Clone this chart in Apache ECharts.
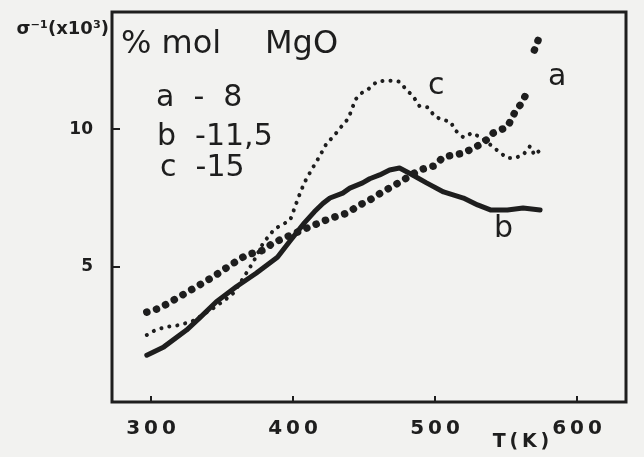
<!DOCTYPE html>
<html>
<head>
<meta charset="utf-8">
<script src="https://cdn.jsdelivr.net/npm/echarts@6/dist/echarts.min.js"></script>
<style>
  html, body { margin: 0; padding: 0; background: #f2f2f0; }
  #echarts { width: 644px; height: 457px; }
</style>
</head>
<body>
<div id="echarts"></div>
<script>
// T (K) and sigma^-1 (x10^3)
const aT = [297, 306, 316, 330, 344, 356, 367, 379, 386, 398, 412, 426, 438, 447, 454, 463, 476, 489, 499, 506, 520, 534, 541, 551, 556, 561, 566, null, 570, 574];
const aV = [3.36, 3.5, 3.8, 4.22, 4.65, 5.07, 5.43, 5.61, 5.87, 6.15, 6.46, 6.76, 6.95, 7.25, 7.43, 7.72, 8.1, 8.52, 8.66, 8.99, 9.13, 9.5, 9.86, 10.08, 10.59, 10.95, 11.46, null, 12.87, 13.42];

const bT = [297, 309, 325, 335, 346, 360, 374, 389, 398, 408, 415, 421, 426, 435, 440, 449, 454, 461, 468, 475, 482, 494, 506, 520, 530, 539, 551, 562, 574];
const bV = [1.8, 2.1, 2.71, 3.19, 3.74, 4.28, 4.77, 5.35, 5.95, 6.6, 7.0, 7.3, 7.5, 7.68, 7.86, 8.05, 8.2, 8.34, 8.52, 8.59, 8.4, 8.05, 7.72, 7.5, 7.25, 7.07, 7.07, 7.14, 7.07];

const cT = [297, 303, 311, 320, 330, 344, 352, 358, 365, 372, 379, 387, 393, 398, 404, 408, 413, 419, 424, 428, 433, 439, 444, 448, 453, 459, 465, 470, 475, 481, 484, 489, 495, 500, 506, 511, 514, 520, 526, 533, 540, 546, 551, 556, 562, 567, 570, 574];
const cV = [2.53, 2.71, 2.83, 2.89, 3.05, 3.51, 3.8, 4.05, 4.6, 5.18, 5.87, 6.38, 6.55, 6.7, 7.55, 8.06, 8.52, 9.04, 9.52, 9.7, 10.03, 10.39, 11.08, 11.3, 11.45, 11.72, 11.76, 11.76, 11.72, 11.36, 11.24, 10.84, 10.79, 10.45, 10.33, 10.27, 9.97, 9.7, 9.86, 9.68, 9.39, 9.14, 8.95, 8.95, 9.06, 9.39, 9.06, 9.24];

const xTicks = [300, 400, 500, 600];
const yTicks = [5, 10];

const ink = '#1e1e1e';
const pairs = (xs, ys) => xs.map((x, i) => (x === null ? [null, null] : [x, ys[i]]));

let myChart = echarts.init(document.getElementById('echarts'));

const txt = (text, x, y, size, weight, align) => ({
  type: 'text',
  x: x,
  y: y,
  style: {
    text: text,
    font: (weight || 'normal') + ' ' + size + 'px "DejaVu Sans"',
    fill: ink,
    align: align || 'left',
    verticalAlign: 'middle',
    textAlign: align || 'left',
    textVerticalAlign: 'middle',
  },
});

let option = {
  backgroundColor: '#f2f2f0',
  animation: false,
  grid: {
    left: 112,
    right: 18,
    top: 12,
    bottom: 55,
    show: true,
    borderColor: ink,
    borderWidth: 3,
  },
  xAxis: {
    type: 'value',
    min: 272.5,
    max: 634.5,
    axisLine: { show: false },
    splitLine: { show: false },
    axisTick: {
      inside: true,
      length: 6,
      lineStyle: { color: ink, width: 2 },
      customValues: xTicks,
    },
    axisLabel: {
      customValues: xTicks,
      margin: 17,
      color: ink,
      fontFamily: 'DejaVu Sans',
      fontWeight: 'bold',
      fontSize: 20,
      formatter: (v) => String(v).split('').join('\u2009'),
    },
  },
  yAxis: {
    type: 'value',
    min: 0.1,
    max: 14.25,
    axisLine: { show: false },
    splitLine: { show: false },
    axisTick: {
      inside: true,
      length: 8,
      lineStyle: { color: ink, width: 2 },
      customValues: yTicks,
    },
    axisLabel: {
      customValues: yTicks,
      margin: 19,
      color: ink,
      fontFamily: 'DejaVu Sans',
      fontWeight: 'bold',
      fontSize: 17,
    },
  },
  graphic: [
    txt('σ⁻¹(x10³)', 109, 29, 18, 'bold', 'right'),
    txt('% mol', 121, 45, 32),
    txt('MgO', 265, 45, 32),
    txt('a  -  8', 156, 98, 30),
    txt('b  -11,5', 157, 137, 30),
    txt('c  -15', 160, 168, 30),
    txt('c', 428, 86, 30),
    txt('a', 548, 77, 30),
    txt('b', 494, 229, 30),
    txt('T\u2009(\u2009K\u2009)', 521, 442, 19, 'bold', 'center'),
  ],
  series: [
    {
      name: 'b',
      type: 'line',
      data: pairs(bT, bV),
      symbol: 'none',
      silent: true,
      lineStyle: { color: ink, width: 5, join: 'round', cap: 'round' },
    },
    {
      name: 'c',
      type: 'line',
      data: pairs(cT, cV),
      symbol: 'none',
      silent: true,
      lineStyle: { color: ink, width: 4, type: [0.1, 8], cap: 'round' },
    },
    {
      name: 'a',
      type: 'line',
      data: pairs(aT, aV),
      symbol: 'none',
      silent: true,
      connectNulls: false,
      lineStyle: { color: ink, width: 7.5, type: [0.1, 10], cap: 'round' },
    },
  ],
};
myChart.setOption(option);
</script>
</body>
</html>
